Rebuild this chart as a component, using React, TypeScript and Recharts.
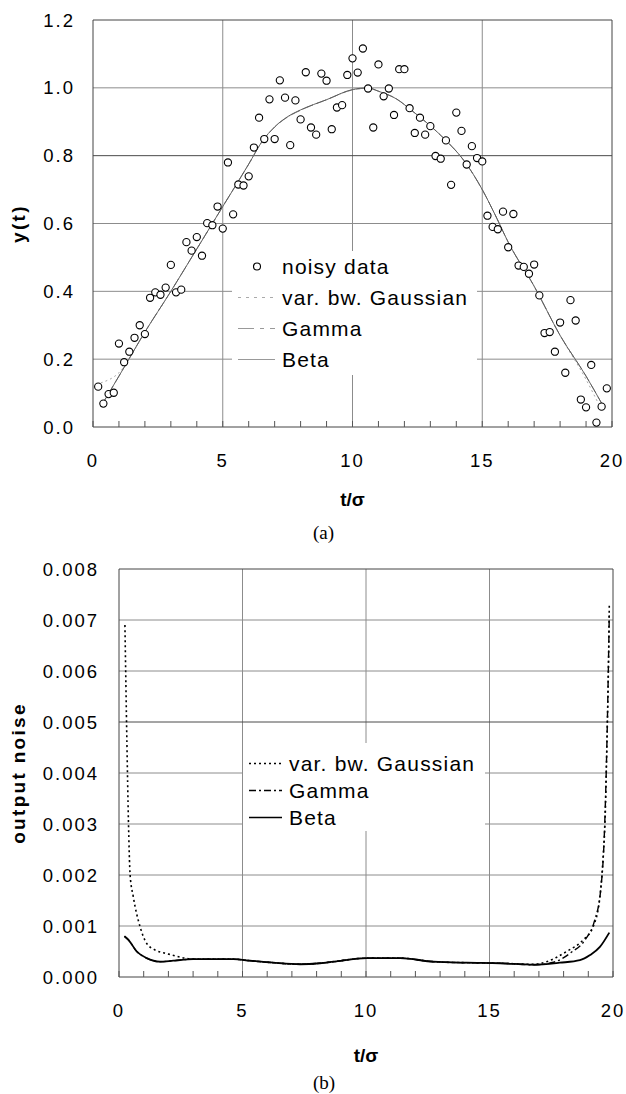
import React from 'react';
import {
  ComposedChart,
  Line,
  Scatter,
  XAxis,
  YAxis,
  CartesianGrid,
  ReferenceArea,
  Legend,
} from 'recharts';

const FONT = "'Liberation Sans', Arial, sans-serif";
const SERIF = "'Liberation Serif', 'Times New Roman', serif";

// ---- panel (a) ----
const NOISY_T = [
  0.2, 0.4, 0.6, 0.8, 1.0, 1.2, 1.4, 1.6, 1.8, 2.0, 2.2, 2.4, 2.6, 2.8, 3.0, 3.2, 3.4, 3.6, 3.8, 4.0,
  4.2, 4.4, 4.6, 4.8, 5.0, 5.2, 5.4, 5.6, 5.8, 6.0, 6.2, 6.4, 6.6, 6.8, 7.0, 7.2, 7.4, 7.6, 7.8, 8.0,
  8.2, 8.4, 8.6, 8.8, 9.0, 9.2, 9.4, 9.6, 9.8, 10.0, 10.2, 10.4, 10.6, 10.8, 11.0, 11.2, 11.4, 11.6, 11.8, 12.0,
  12.2, 12.4, 12.6, 12.8, 13.0, 13.2, 13.4, 13.6, 13.8, 14.0, 14.2, 14.4, 14.6, 14.8, 15.0, 15.2, 15.4, 15.6, 15.8, 16.0,
  16.2, 16.4, 16.6, 16.8, 17.0, 17.2, 17.4, 17.6, 17.8, 18.0, 18.2, 18.4, 18.6, 18.8, 19.0, 19.2, 19.4, 19.6, 19.8,
];
const NOISY_Y = [
  0.119, 0.069, 0.097, 0.101, 0.246, 0.191, 0.222, 0.263, 0.3, 0.274, 0.381, 0.397, 0.39, 0.411, 0.478, 0.397, 0.405, 0.545, 0.52, 0.56,
  0.505, 0.601, 0.595, 0.65, 0.585, 0.78, 0.627, 0.715, 0.712, 0.739, 0.824, 0.912, 0.849, 0.966, 0.849, 1.022, 0.971, 0.831, 0.963, 0.907,
  1.046, 0.883, 0.862, 1.042, 1.021, 0.878, 0.942, 0.949, 1.038, 1.087, 1.045, 1.116, 0.998, 0.883, 1.069, 0.975, 0.998, 0.92, 1.055, 1.055,
  0.94, 0.867, 0.912, 0.862, 0.887, 0.799, 0.791, 0.845, 0.714, 0.927, 0.873, 0.774, 0.828, 0.793, 0.783, 0.623, 0.59, 0.583, 0.635, 0.53,
  0.628, 0.476, 0.472, 0.452, 0.479, 0.388, 0.277, 0.28, 0.222, 0.308, 0.16, 0.374, 0.314, 0.081, 0.058, 0.183, 0.013, 0.06, 0.114,
];

const FIT_T = [0.3, 1, 2, 3, 4, 5, 6, 6.5, 7, 7.5, 8, 9, 10, 10.6, 11, 11.7, 12.3, 13, 13.6, 14.3, 15, 15.5, 16, 17, 18, 19, 19.6];
const BETA_A = [0.06, 0.15, 0.28, 0.4, 0.525, 0.65, 0.775, 0.84, 0.885, 0.915, 0.935, 0.965, 0.995, 1.0, 0.99, 0.967, 0.932, 0.888, 0.845, 0.785, 0.7, 0.625, 0.545, 0.415, 0.27, 0.15, 0.07];
const GAMMA_A = [0.06, 0.15, 0.28, 0.4, 0.525, 0.65, 0.775, 0.84, 0.884, 0.914, 0.934, 0.965, 0.994, 0.999, 0.99, 0.967, 0.932, 0.888, 0.845, 0.785, 0.7, 0.625, 0.545, 0.415, 0.27, 0.15, 0.07];
const GAUSS_A = [0.13, 0.16, 0.28, 0.4, 0.525, 0.65, 0.775, 0.84, 0.884, 0.914, 0.934, 0.965, 0.994, 0.999, 0.99, 0.967, 0.932, 0.888, 0.845, 0.785, 0.7, 0.625, 0.545, 0.415, 0.27, 0.14, 0.05];

const Y_TICKS_A = [0, 0.2, 0.4, 0.6, 0.8, 1.0, 1.2];

// ---- panel (b) ----
const GAUSS_B_T = [0.24, 0.32, 0.38, 0.45, 0.58, 0.85, 1.12, 1.46, 1.93, 2.67, 3.0, 4.63, 5.3, 6.25, 7.33, 8.14, 8.68, 10.03, 11.38, 12.73, 14.08, 15.43, 16.78, 17.31, 18.12, 18.8, 19.2, 19.47, 19.61, 19.68, 19.75, 19.82, 19.85];
const GAUSS_B = [0.0069, 0.0046, 0.0031, 0.002, 0.00157, 0.00099, 0.00066, 0.00053, 0.00046, 0.00037, 0.00035, 0.00035, 0.00032, 0.00028, 0.00025, 0.00027, 0.0003, 0.00037, 0.00037, 0.0003, 0.00028, 0.00027, 0.00025, 0.0003, 0.0005, 0.00073, 0.00099, 0.00157, 0.00243, 0.00308, 0.0045, 0.0062, 0.0073];

const GAMMA_B_T = [0.22, 0.38, 0.72, 1.12, 1.66, 2.2, 3.0, 4.63, 5.3, 6.25, 7.33, 8.14, 8.68, 10.03, 11.38, 12.73, 14.08, 15.43, 16.78, 17.6, 18.3, 18.9, 19.25, 19.5, 19.65, 19.75, 19.85];
const GAMMA_B = [0.0008, 0.00073, 0.0005, 0.00037, 0.0003, 0.00032, 0.00035, 0.00035, 0.00032, 0.00028, 0.00025, 0.00027, 0.0003, 0.00037, 0.00037, 0.0003, 0.00028, 0.00027, 0.00024, 0.00029, 0.00048, 0.00075, 0.0011, 0.0017, 0.0028, 0.0045, 0.0071];

const BETA_B_T = [0.22, 0.38, 0.72, 1.12, 1.66, 2.2, 3.0, 4.63, 5.3, 6.25, 7.33, 8.14, 8.68, 10.03, 11.38, 12.73, 14.08, 15.43, 16.78, 17.85, 18.66, 19.07, 19.47, 19.85];
const BETA_B = [0.0008, 0.00073, 0.0005, 0.00037, 0.0003, 0.00032, 0.00035, 0.00035, 0.00032, 0.00028, 0.00025, 0.00027, 0.0003, 0.00037, 0.00037, 0.0003, 0.00028, 0.00027, 0.00024, 0.00028, 0.00033, 0.00043, 0.00059, 0.00087];

const Y_TICKS_B = [0, 0.001, 0.002, 0.003, 0.004, 0.005, 0.006, 0.007, 0.008];

const X_TICKS = [0, 1, 2, 3, 4, 5, 6, 7, 8, 9, 10, 11, 12, 13, 14, 15, 16, 17, 18, 19, 20];

const zip = (ts: number[], ys: number[]) => ts.map((x, i) => ({ x, y: ys[i] }));

const tickStyle = { fontSize: 18.5, fill: '#000', fontFamily: FONT, letterSpacing: 2 };
const titleStyle = { fontSize: 19, fontWeight: 'bold', fill: '#000', fontFamily: FONT, letterSpacing: 2.3 };
const xTitleStyle = { ...titleStyle, letterSpacing: 0 };

function XTick({ x, y, payload }: any) {
  const v = payload.value;
  return (
    <g>
      <line x1={x} x2={x} y1={y} y2={y - 6} stroke="#555" strokeWidth={1} />
      {v % 5 === 0 && (
        <text x={x} y={y + 40} textAnchor="middle" {...tickStyle}>
          {v}
        </text>
      )}
    </g>
  );
}

type LegendItem = { label: string; kind: 'circle' | 'line'; stroke?: string; dash?: string; width?: number };

function BoxLegend({ items, rowH, padTop, iconW, textX }: { items: LegendItem[]; rowH: number; padTop: number; iconW: number; textX: number }) {
  return (
    <div style={{ paddingTop: padTop, background: '#fff' }}>
      {items.map((it) => (
        <div key={it.label} style={{ display: 'flex', alignItems: 'center', height: rowH }}>
          <svg width={textX} height={rowH} style={{ flex: 'none' }}>
            {it.kind === 'circle' ? (
              <circle cx={25} cy={rowH / 2} r={3.5} fill="#fff" stroke="#000" strokeWidth={1.1} />
            ) : (
              <line x1={6} x2={6 + iconW} y1={rowH / 2} y2={rowH / 2} stroke={it.stroke} strokeWidth={it.width} strokeDasharray={it.dash} />
            )}
          </svg>
          <span style={{ fontFamily: FONT, fontSize: 21, letterSpacing: 1.2, color: '#000', whiteSpace: 'nowrap' }}>{it.label}</span>
        </div>
      ))}
    </div>
  );
}

const LEGEND_A: LegendItem[] = [
  { label: 'noisy data', kind: 'circle' },
  { label: 'var. bw. Gaussian', kind: 'line', stroke: '#aaa', dash: '3 5', width: 1 },
  { label: 'Gamma', kind: 'line', stroke: '#999', dash: '16 6 4 6', width: 1 },
  { label: 'Beta', kind: 'line', stroke: '#999', width: 1 },
];

const LEGEND_B: LegendItem[] = [
  { label: 'var. bw. Gaussian', kind: 'line', stroke: '#000', dash: '2 3', width: 1.6 },
  { label: 'Gamma', kind: 'line', stroke: '#000', dash: '7 3 2 3', width: 1.4 },
  { label: 'Beta', kind: 'line', stroke: '#000', width: 1.6 },
];

function ChartA() {
  const noisy = zip(NOISY_T, NOISY_Y);
  return (
    <ComposedChart width={626} height={520} margin={{ top: 20, right: 14, bottom: 8, left: 0 }}>
      <CartesianGrid horizontalValues={[0.2, 0.4, 0.6, 1.0]} verticalValues={[5, 10, 15]} stroke="#8c8c8c" />
      <CartesianGrid horizontalValues={[0.8]} vertical={false} stroke="#4a4a4a" />
      <XAxis
        type="number"
        dataKey="x"
        domain={[0, 20]}
        ticks={X_TICKS}
        interval={0}
        axisLine={false}
        tickLine={false}
        tickSize={0}
        tickMargin={0}
        height={85}
        tick={(p: any) => <XTick {...p} />}
        label={{ value: 't/σ', position: 'insideBottom', offset: 6, style: xTitleStyle }}
      />
      <YAxis
        type="number"
        dataKey="y"
        domain={[0, 1.2]}
        ticks={Y_TICKS_A}
        interval={0}
        width={93}
        axisLine={false}
        tickLine={false}
        tickSize={0}
        tickMargin={18}
        tickFormatter={(v: number) => v.toFixed(1)}
        tick={tickStyle}
        label={{ value: 'y(t)', angle: -90, position: 'insideLeft', offset: 18, style: { ...titleStyle, textAnchor: 'middle' } }}
      />
      <ReferenceArea x1={0} x2={20} y1={0} y2={1.2} fill="none" stroke="#444" strokeWidth={1} />
      <Line data={zip(FIT_T, GAUSS_A)} dataKey="y" type="monotone" dot={false} stroke="#aaa" strokeWidth={1} strokeDasharray="2 3" isAnimationActive={false} legendType="none" />
      <Line data={zip(FIT_T, GAMMA_A)} dataKey="y" type="monotone" dot={false} stroke="#888" strokeWidth={1} strokeDasharray="10 4" isAnimationActive={false} legendType="none" />
      <Line data={zip(FIT_T, BETA_A)} dataKey="y" type="monotone" dot={false} stroke="#555" strokeWidth={0.9} isAnimationActive={false} legendType="none" />
      <Scatter
        data={noisy}
        dataKey="y"
        isAnimationActive={false}
        legendType="none"
        shape={(p: any) => <circle cx={p.cx} cy={p.cy} r={3.6} fill="#fff" stroke="#000" strokeWidth={1.1} />}
      />
      <Legend
        layout="vertical"
        align="center"
        verticalAlign="middle"
        wrapperStyle={{ left: 232, top: 251, width: 245 }}
        content={() => <BoxLegend items={LEGEND_A} rowH={31} padTop={0} iconW={37} textX={50} />}
      />
    </ComposedChart>
  );
}

function ChartB() {
  return (
    <ComposedChart width={626} height={549} margin={{ top: 24, right: 13, bottom: 17, left: 0 }}>
      <CartesianGrid horizontalValues={[0.001, 0.002, 0.003, 0.004, 0.006, 0.007]} verticalValues={[5, 10, 15]} stroke="#8c8c8c" />
      <CartesianGrid horizontalValues={[0.005]} vertical={false} stroke="#4a4a4a" />
      <XAxis
        type="number"
        dataKey="x"
        domain={[0, 20]}
        ticks={X_TICKS}
        interval={0}
        axisLine={false}
        tickLine={false}
        tickSize={0}
        tickMargin={0}
        height={100}
        tick={(p: any) => <XTick {...p} />}
        label={{ value: 't/σ', position: 'insideBottom', offset: 15, style: xTitleStyle }}
      />
      <YAxis
        type="number"
        dataKey="y"
        domain={[0, 0.008]}
        ticks={Y_TICKS_B}
        interval={0}
        width={119}
        axisLine={false}
        tickLine={false}
        tickSize={0}
        tickMargin={20}
        tickFormatter={(v: number) => v.toFixed(3)}
        tick={tickStyle}
        label={{ value: 'output noise', angle: -90, position: 'insideLeft', offset: 18, style: { ...titleStyle, textAnchor: 'middle' } }}
      />
      <ReferenceArea x1={0} x2={20} y1={0} y2={0.008} fill="none" stroke="#444" strokeWidth={1} />
      <Line data={zip(GAMMA_B_T, GAMMA_B)} dataKey="y" type="monotone" dot={false} stroke="#000" strokeWidth={1.4} strokeDasharray="7 3 2 3" isAnimationActive={false} legendType="none" />
      <Line data={zip(GAUSS_B_T, GAUSS_B)} dataKey="y" type="monotone" dot={false} stroke="#000" strokeWidth={1.6} strokeDasharray="2 3" isAnimationActive={false} legendType="none" />
      <Line data={zip(BETA_B_T, BETA_B)} dataKey="y" type="monotone" dot={false} stroke="#000" strokeWidth={1.8} isAnimationActive={false} legendType="none" />
      <Legend
        layout="vertical"
        align="center"
        verticalAlign="middle"
        wrapperStyle={{ left: 243, top: 198, width: 242 }}
        content={() => <BoxLegend items={LEGEND_B} rowH={27} padTop={7} iconW={33} textX={46} />}
      />
    </ComposedChart>
  );
}

export default function App() {
  return (
    <div style={{ position: 'absolute', left: 0, top: 0, width: 626, height: 1094, background: '#fff' }}>
      <div style={{ position: 'absolute', left: 0, top: 0 }}>
        <ChartA />
      </div>
      <div style={{ position: 'absolute', left: 313, top: 522, fontFamily: SERIF, fontSize: 19 }}>(a)</div>
      <div style={{ position: 'absolute', left: 0, top: 545 }}>
        <ChartB />
      </div>
      <div style={{ position: 'absolute', left: 313, top: 1072, fontFamily: SERIF, fontSize: 19 }}>(b)</div>
    </div>
  );
}
